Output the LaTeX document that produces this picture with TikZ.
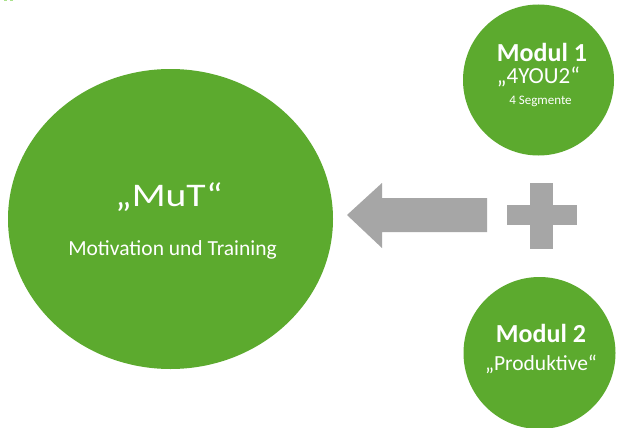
\documentclass[tikz,border=0pt]{standalone}
\usepackage{fontspec}
\usetikzlibrary{shapes.geometric}
\setmainfont{Carlito}
\definecolor{leaf}{RGB}{92,170,46}
\definecolor{arrowgray}{RGB}{166,166,166}
\definecolor{speck}{RGB}{170,225,140}
\begin{document}
\begin{tikzpicture}[x=1pt,y=-1pt,
  bubble/.style={fill=leaf,draw=none},
  label/.style={text=white,inner sep=0pt,anchor=base},
  shapegray/.style={fill=arrowgray,draw=none}]
\useasboundingbox (0,0) rectangle (618,428);
\fill[white] (0,0) rectangle (618,428);
% small marks at the top edge
\fill[speck] (4,0) rectangle (7,1.5);
\fill[speck] (10,0) rectangle (13,1.5);
% main bubble
\node[bubble,ellipse,minimum width=325pt,minimum height=300pt,inner sep=0pt] (mut) at (170.5,219) {};
% module bubbles
\node[bubble,circle,minimum size=151pt,inner sep=0pt] (m1) at (538.5,80) {};
\node[bubble,circle,minimum size=152pt,inner sep=0pt] (m2) at (539.5,353) {};
% texts
\node[label,font=\fontsize{33}{33}\selectfont,xscale=1.2] (mutt) at (169,206) {„MuT“};
\node[label,font=\fontsize{21.5}{21.5}\selectfont] (mutsub) at (172.5,255) {Motivation und Training};
\node[label,font=\bfseries\fontsize{26}{26}\selectfont] (m1t) at (542,61.5) {Modul 1};
\node[label,font=\fontsize{23}{23}\selectfont] (m1n) at (538.5,83) {„4YOU2“};
\node[label,font=\fontsize{13}{13}\selectfont] (m1s) at (540.5,104) {4 Segmente};
\node[label,font=\bfseries\fontsize{26}{26}\selectfont] (m2t) at (541,342) {Modul 2};
\node[label,font=\fontsize{21.5}{21.5}\selectfont] (m2n) at (541,370) {„Produktive“};
% arrow pointing to the main bubble
\fill[shapegray] (347,215) -- (382,183) -- (382,198) -- (487,198) -- (487,232) -- (382,232) -- (382,248) -- cycle;
% plus sign
\fill[shapegray] (507,205) rectangle (577,225);
\fill[shapegray] (530,183) rectangle (553,249);
\end{tikzpicture}
\end{document}
